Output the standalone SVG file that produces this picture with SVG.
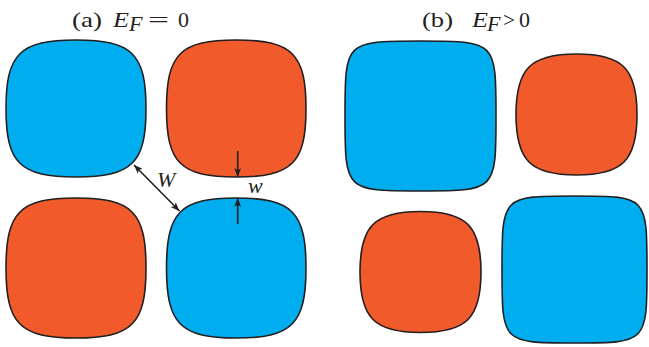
<svg xmlns="http://www.w3.org/2000/svg" width="649" height="347" viewBox="0 0 649 347">
<style>
.blue{fill:#00AEEF;stroke:#231F20;stroke-width:1.6}
.orange{fill:#F15A2B;stroke:#231F20;stroke-width:1.6}
.t{font-family:"Liberation Serif","Times New Roman",Tinos,"DejaVu Serif",serif;font-size:22px;fill:#231F20}
.i{font-style:italic}
.arr{stroke:#231F20;stroke-width:1.6;fill:none}
</style>
<defs>
<marker id="ah" markerUnits="userSpaceOnUse" markerWidth="9" markerHeight="7" viewBox="0 0 9 7" refX="9" refY="3.5" orient="auto-start-reverse">
<path d="M0,0 L9,3.5 L0,7 L2.2,3.5 z" fill="#231F20"/>
</marker>
</defs>
<g id="title-a"><text class="t" x="72" y="27" textLength="30" lengthAdjust="spacingAndGlyphs">(a)</text><text class="t i" x="113" y="27" textLength="16" lengthAdjust="spacingAndGlyphs">E</text><text class="t i" x="129" y="31" font-size="15">F</text><text class="t" x="148" y="27" textLength="21" lengthAdjust="spacingAndGlyphs">=</text><text class="t" x="178" y="27">0</text></g>
<g id="title-b"><text class="t" x="422" y="27" textLength="31" lengthAdjust="spacingAndGlyphs">(b)</text><text class="t i" x="472" y="27" textLength="16" lengthAdjust="spacingAndGlyphs">E</text><text class="t i" x="487" y="31" font-size="15">F</text><text class="t" x="503" y="27" textLength="12" lengthAdjust="spacingAndGlyphs">&gt;</text><text class="t" x="519" y="27">0</text></g>
<g id="a-blue-tl"><path class="blue" d="M76,40 C132,40 146,53.7 146,108.5 C146,163.3 132,177 76,177 C20,177 6,163.3 6,108.5 C6,53.7 20,40 76,40 Z"/></g>
<g id="a-orange-tr"><path class="orange" d="M236.25,40 C292,40 306,53.7 306,108.5 C306,163.3 292,177 236.25,177 C180.5,177 166.5,163.3 166.5,108.5 C166.5,53.7 180.5,40 236.25,40 Z"/></g>
<g id="a-orange-bl"><path class="orange" d="M76,198 C132,198 146,212 146,268 C146,324 132,338 76,338 C20,338 6,324 6,268 C6,212 20,198 76,198 Z"/></g>
<g id="a-blue-br"><path class="blue" d="M236.25,198 C292,198 306,212 306,268 C306,324 292,338 236.25,338 C180.5,338 166.5,324 166.5,268 C166.5,212 180.5,198 236.25,198 Z"/></g>
<g id="b-blue-tl"><path class="blue" d="M420.5,41 C496,41 496,41 496,116 C496,191 496,191 420.5,191 C345,191 345,191 345,116 C345,41 345,41 420.5,41 Z"/></g>
<g id="b-orange-tr"><path class="orange" d="M576.5,54 C622.5,54 637,68.5 637,114.5 C637,160.5 622.5,175 576.5,175 C530.5,175 516,160.5 516,114.5 C516,68.5 530.5,54 576.5,54 Z"/></g>
<g id="b-orange-bl"><path class="orange" d="M420.5,211.5 C466.5,211.5 481,226 481,272 C481,318 466.5,332.5 420.5,332.5 C374.5,332.5 360,318 360,272 C360,226 374.5,211.5 420.5,211.5 Z"/></g>
<g id="b-blue-br"><path class="blue" d="M574.5,196 C647,196 647,196 647,269.5 C647,343 647,343 574.5,343 C502,343 502,343 502,269.5 C502,196 502,196 574.5,196 Z"/></g>
<g id="connectors">
<line class="arr" x1="134" y1="165" x2="179.5" y2="211" marker-start="url(#ah)" marker-end="url(#ah)"/>
<line class="arr" x1="237.7" y1="151" x2="237.7" y2="177" marker-end="url(#ah)"/>
<line class="arr" x1="237.7" y1="224" x2="237.7" y2="198" marker-end="url(#ah)"/>
</g>
<g id="labels"><text class="t i" x="157" y="187">W</text><text class="t i" x="248" y="193">w</text></g>
</svg>
